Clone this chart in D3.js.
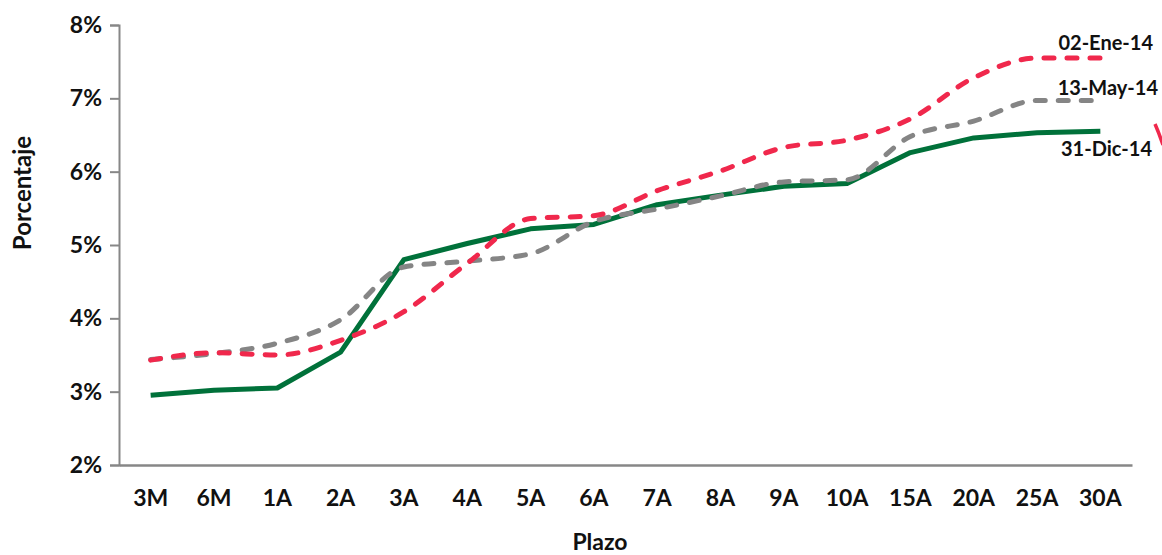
<!DOCTYPE html>
<html>
<head>
<meta charset="utf-8">
<script src="https://cdn.jsdelivr.net/npm/d3@7/dist/d3.min.js"></script>
<style>
  html, body { margin: 0; padding: 0; background: #fff; }
  svg { display: block; font-family: Lato, "Open Sans", sans-serif; }
</style>
</head>
<body>
<svg id="chart" width="1162" height="555"></svg>
<script>
// Curva de rendimientos por plazo (%)
const plazos = ["3M","6M","1A","2A","3A","4A","5A","6A","7A","8A","9A","10A","15A","20A","25A","30A"];
const ene14 = [3.43,3.53,3.50,3.70,4.09,4.75,5.36,5.40,5.74,6.01,6.33,6.43,6.72,7.28,7.55,7.55];
const may14 = [3.44,3.52,3.66,3.98,4.70,4.78,4.88,5.32,5.49,5.67,5.86,5.89,6.48,6.69,6.97,6.97];
const dic14 = [2.95,3.02,3.05,3.54,4.80,5.02,5.22,5.28,5.55,5.68,5.80,5.84,6.26,6.46,6.53,6.55];
const yTicks = [2,3,4,5,6,7,8];

const svg = d3.select("#chart");
const plot = { left: 119, right: 1132, top: 25, bottom: 465 };

const x = d3.scaleBand().domain(plazos).range([plot.left, plot.right]);
const y = d3.scaleLinear().domain([2, 8]).range([plot.bottom, plot.top]);

const axisColor = "#878787";

// Eje Y
const yAxis = svg.append("g")
  .attr("transform", `translate(${plot.left},0)`)
  .call(d3.axisLeft(y).tickValues(yTicks).tickSize(9).tickPadding(8)
    .tickFormat(d => d + "%"));
yAxis.select(".domain").attr("stroke", axisColor).attr("stroke-width", 2);
yAxis.selectAll(".tick line").attr("stroke", axisColor).attr("stroke-width", 2);
yAxis.selectAll(".tick text")
  .attr("fill", "#111").attr("font-size", 23).attr("font-weight", 700)
  .attr("font-family", "Lato, sans-serif");

// Eje X
const xAxis = svg.append("g")
  .attr("transform", `translate(0,${plot.bottom})`)
  .call(d3.axisBottom(x).tickSize(0).tickPadding(25).tickSizeOuter(0));
xAxis.select(".domain").attr("stroke", axisColor).attr("stroke-width", 2.5);
xAxis.selectAll(".tick text")
  .attr("fill", "#111").attr("font-size", 23).attr("font-weight", 700)
  .attr("font-family", "Lato, sans-serif");

// Títulos de ejes
svg.append("text")
  .attr("transform", `translate(31,193) rotate(-90)`)
  .attr("text-anchor", "middle")
  .attr("font-size", 24).attr("font-weight", 700).attr("fill", "#111")
  .text("Porcentaje");

svg.append("text")
  .attr("x", 600).attr("y", 550)
  .attr("text-anchor", "middle")
  .attr("font-size", 23).attr("font-weight", 700).attr("fill", "#111")
  .text("Plazo");

const cx = d => x(d) + x.bandwidth() / 2;

const series = [
  { name: "31-Dic-14", values: dic14, color: "#00713A", dash: null, curve: d3.curveLinear },
  { name: "13-May-14", values: may14, color: "#858585", dash: "10,13", curve: d3.curveMonotoneX },
  { name: "02-Ene-14", values: ene14, color: "#F0284C", dash: "10,13", curve: d3.curveMonotoneX }
];

series.forEach(s => {
  const line = d3.line()
    .x((d, i) => cx(plazos[i]))
    .y(d => y(d))
    .curve(s.curve);
  svg.append("path")
    .datum(s.values)
    .attr("d", line)
    .attr("fill", "none")
    .attr("stroke", s.color)
    .attr("stroke-width", 5)
    .attr("stroke-linecap", s.dash ? "round" : "butt")
    .attr("stroke-linejoin", "round")
    .attr("stroke-dasharray", s.dash);
});

// Etiquetas de las curvas
const labels = [
  { text: "02-Ene-14", x: 1153, y: 50 },
  { text: "13-May-14", x: 1158, y: 95 },
  { text: "31-Dic-14", x: 1152, y: 156 }
];
svg.selectAll("text.lbl").data(labels).enter().append("text")
  .attr("class", "lbl")
  .attr("x", d => d.x).attr("y", d => d.y)
  .attr("text-anchor", "end")
  .attr("font-size", 20).attr("font-weight", 700).attr("fill", "#111")
  .text(d => d.text);

// Trazo de resalte en el borde derecho
const p = d3.path();
p.moveTo(1155, 124);
p.quadraticCurveTo(1159, 133, 1163, 145);
svg.append("path")
  .attr("d", p.toString())
  .attr("fill", "none")
  .attr("stroke", "#F0284C")
  .attr("stroke-width", 3.5);
</script>
</body>
</html>
